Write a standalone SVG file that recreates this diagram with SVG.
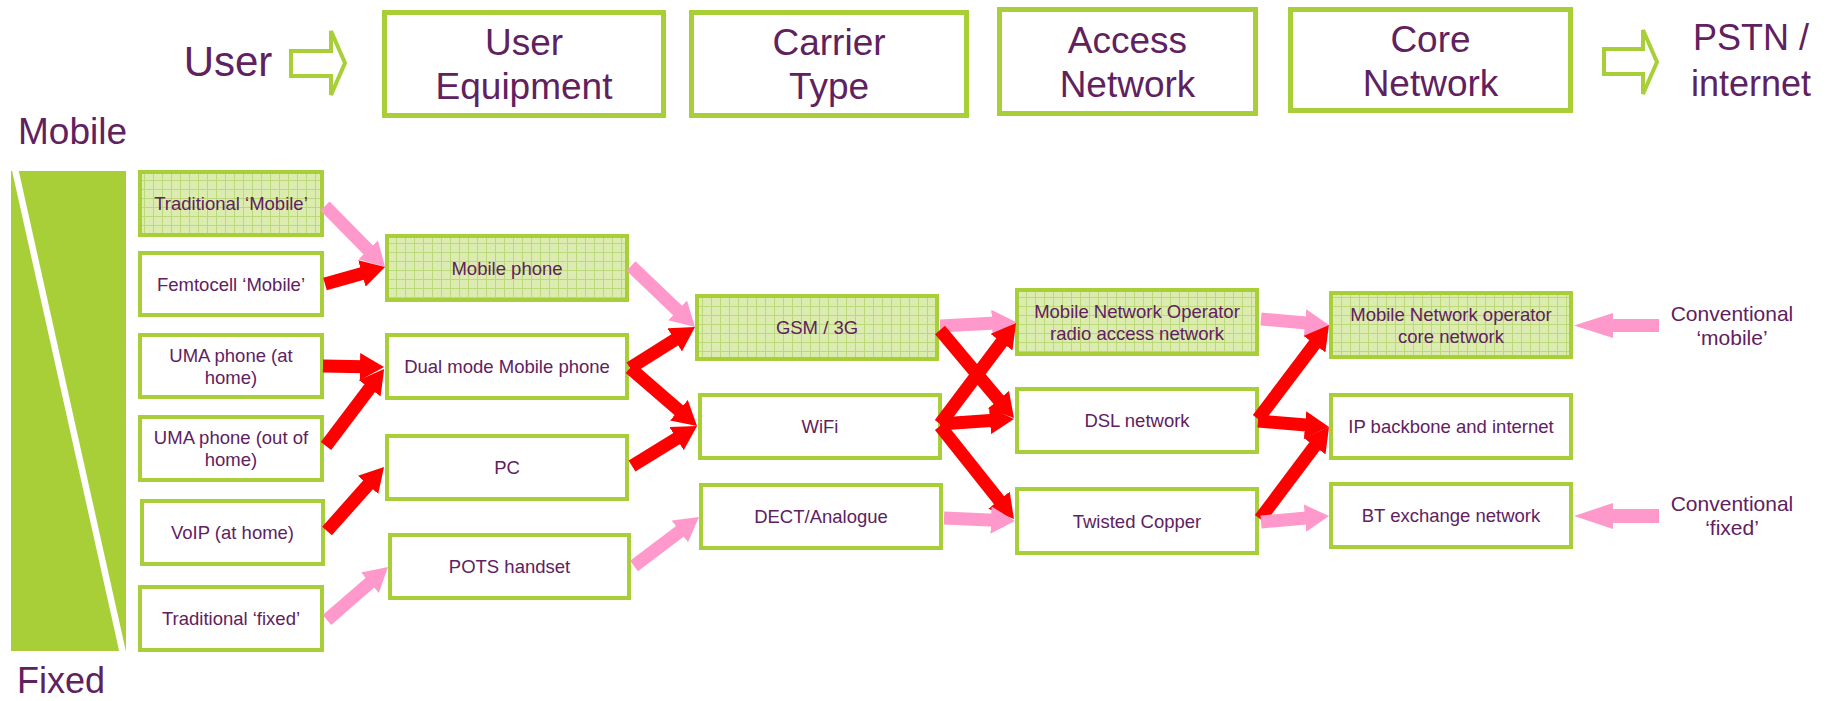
<svg xmlns="http://www.w3.org/2000/svg" width="1830" height="701" viewBox="0 0 1830 701">
<style>
text{font-family:"Liberation Sans",Arial,sans-serif;fill:#60215f;text-anchor:middle}
.hd{font-size:37px}
.nt{font-size:18.5px}
.lb{font-size:21px}
.box{fill:#fff;stroke:#a8cf38;stroke-width:4}
.hbox{fill:url(#grid);stroke:#a8cf38;stroke-width:4}
.head{fill:#fff;stroke:#a8cf38;stroke-width:5}
.red{stroke:#ff0000;stroke-width:13;fill:none;marker-end:url(#ahr)}
.pink{stroke:#ff99cc;stroke-width:13;fill:none;marker-end:url(#ahp)}
</style>
<defs>
<pattern id="grid" width="9" height="9" patternUnits="userSpaceOnUse"><rect width="9" height="9" fill="#dcebb0"/><path d="M0 0.5H9M0.5 0V9" stroke="#bcd97a" stroke-width="1"/></pattern>
<marker id="ahr" viewBox="0 -1.05 1.85 2.1" markerWidth="1.85" markerHeight="2.1" refX="0.31" refY="0" orient="auto" markerUnits="strokeWidth"><path d="M0,-1.05L1.85,0L0,1.05z" fill="#ff0000"/></marker>
<marker id="ahp" viewBox="0 -1.05 1.85 2.1" markerWidth="1.85" markerHeight="2.1" refX="0.31" refY="0" orient="auto" markerUnits="strokeWidth"><path d="M0,-1.05L1.85,0L0,1.05z" fill="#ff99cc"/></marker>
</defs>
<rect width="1830" height="701" fill="#fff"/>

<g id="header">
<text x="228" y="76" style="font-size:42px">User</text>
<polygon points="291,51 331,51 331,31 345,63 331,95 331,76 291,76" fill="#fff" stroke="#a8cf38" stroke-width="4"/>
<g id="h-ue"><rect class="head" x="384.5" y="12.5" width="279" height="103"/><text class="hd" x="524" y="55">User</text><text class="hd" x="524" y="99">Equipment</text></g>
<g id="h-ct"><rect class="head" x="691.5" y="12.5" width="275" height="103"/><text class="hd" x="829" y="55">Carrier</text><text class="hd" x="829" y="99">Type</text></g>
<g id="h-an"><rect class="head" x="999.5" y="9.5" width="256" height="104"/><text class="hd" x="1127.5" y="53">Access</text><text class="hd" x="1127.5" y="97">Network</text></g>
<g id="h-cn"><rect class="head" x="1290.5" y="9.5" width="280" height="101"/><text class="hd" x="1430.5" y="52">Core</text><text class="hd" x="1430.5" y="96">Network</text></g>
<polygon points="1604,49 1643,49 1643,30 1657,62 1643,94 1643,74 1604,74" fill="#fff" stroke="#a8cf38" stroke-width="4"/>
<text x="1751" y="50" style="font-size:36px">PSTN /</text>
<text x="1751" y="96" style="font-size:36px">internet</text>
</g>

<g id="side">
<text x="18" y="144" style="font-size:37px;text-anchor:start">Mobile</text>
<rect x="11" y="171" width="115" height="480" fill="#a8cf38"/>
<line x1="13" y1="160" x2="124.5" y2="660" stroke="#fff" stroke-width="6.5"/>
<rect x="0" y="651" width="140" height="12" fill="#fff"/>
<rect x="0" y="158" width="140" height="13" fill="#fff"/>
<text x="17" y="693" style="font-size:36px;text-anchor:start">Fixed</text>
</g>

<g id="n-trad-mobile"><rect class="hbox" x="140" y="172" width="182" height="63"/><text class="nt" x="231" y="210">Traditional ‘Mobile’</text></g>
<g id="n-femto"><rect class="box" x="140" y="253" width="182" height="62"/><text class="nt" x="231" y="291">Femtocell ‘Mobile’</text></g>
<g id="n-uma-home"><rect class="box" x="140" y="335" width="182" height="62"/><text class="nt" x="231" y="361.5">UMA phone (at</text><text class="nt" x="231" y="383.5">home)</text></g>
<g id="n-uma-out"><rect class="box" x="140" y="417" width="182" height="63"/><text class="nt" x="231" y="444">UMA phone (out of</text><text class="nt" x="231" y="466">home)</text></g>
<g id="n-voip"><rect class="box" x="142" y="501" width="181" height="63"/><text class="nt" x="232.5" y="539">VoIP (at home)</text></g>
<g id="n-trad-fixed"><rect class="box" x="140" y="587" width="182" height="63"/><text class="nt" x="231" y="625">Traditional ‘fixed’</text></g>

<g id="n-mobile-phone"><rect class="hbox" x="387" y="236" width="240" height="64"/><text class="nt" x="507" y="274.5">Mobile phone</text></g>
<g id="n-dual"><rect class="box" x="387" y="335" width="240" height="63"/><text class="nt" x="507" y="373">Dual mode Mobile phone</text></g>
<g id="n-pc"><rect class="box" x="387" y="436" width="240" height="63"/><text class="nt" x="507" y="474">PC</text></g>
<g id="n-pots"><rect class="box" x="390" y="535" width="239" height="63"/><text class="nt" x="509.5" y="573">POTS handset</text></g>

<g id="n-gsm"><rect class="hbox" x="697" y="296" width="240" height="63"/><text class="nt" x="817" y="334">GSM / 3G</text></g>
<g id="n-wifi"><rect class="box" x="700" y="395" width="240" height="63"/><text class="nt" x="820" y="433">WiFi</text></g>
<g id="n-dect"><rect class="box" x="701" y="485" width="240" height="63"/><text class="nt" x="821" y="523">DECT/Analogue</text></g>

<g id="n-mno-ran"><rect class="hbox" x="1017" y="290" width="240" height="64"/><text class="nt" x="1137" y="317.5">Mobile Network Operator</text><text class="nt" x="1137" y="339.5">radio access network</text></g>
<g id="n-dsl"><rect class="box" x="1017" y="389" width="240" height="63"/><text class="nt" x="1137" y="427">DSL network</text></g>
<g id="n-copper"><rect class="box" x="1017" y="489" width="240" height="64"/><text class="nt" x="1137" y="527.5">Twisted Copper</text></g>

<g id="n-mno-core"><rect class="hbox" x="1331" y="293" width="240" height="64"/><text class="nt" x="1451" y="320.5">Mobile Network operator</text><text class="nt" x="1451" y="342.5">core network</text></g>
<g id="n-ip"><rect class="box" x="1331" y="395" width="240" height="63"/><text class="nt" x="1451" y="433">IP backbone and internet</text></g>
<g id="n-bt"><rect class="box" x="1331" y="484" width="240" height="63"/><text class="nt" x="1451" y="522">BT exchange network</text></g>

<g id="l-conv-mobile"><text class="lb" x="1732" y="321">Conventional</text><text class="lb" x="1732" y="345">‘mobile’</text></g>
<g id="l-conv-fixed"><text class="lb" x="1732" y="511">Conventional</text><text class="lb" x="1732" y="535">‘fixed’</text></g>

<g id="connectors">
<line class="pink" x1="325" y1="206" x2="371" y2="252.7"/>
<line class="red" x1="325" y1="284" x2="365.8" y2="272.4"/>
<line class="red" x1="323" y1="366" x2="364" y2="366.7"/>
<line class="red" x1="326" y1="446" x2="372.1" y2="385"/>
<line class="red" x1="327" y1="531" x2="370.7" y2="481.9"/>
<line class="pink" x1="327" y1="620" x2="372.9" y2="580.1"/>

<line class="pink" x1="631" y1="266" x2="680.5" y2="313.2"/>
<line class="red" x1="630" y1="368" x2="678.1" y2="337.7"/>
<line class="red" x1="630" y1="368" x2="681.9" y2="412.9"/>
<line class="red" x1="632" y1="466" x2="680" y2="436.5"/>
<line class="pink" x1="634" y1="566" x2="683" y2="529"/>

<line class="pink" x1="940" y1="326" x2="996" y2="323.1"/>
<line class="red" x1="940" y1="330" x2="1001.1" y2="402.7"/>
<line class="red" x1="940" y1="424" x2="1004" y2="339"/>
<line class="red" x1="940" y1="424" x2="994" y2="420.3"/>
<line class="red" x1="940" y1="426" x2="1001.5" y2="503.3"/>
<line class="pink" x1="944" y1="518" x2="995" y2="520.2"/>

<line class="pink" x1="1261" y1="319" x2="1309.1" y2="323.2"/>
<line class="red" x1="1258" y1="419" x2="1316.9" y2="341"/>
<line class="red" x1="1258" y1="421" x2="1309.1" y2="425.3"/>
<line class="red" x1="1260" y1="519" x2="1317" y2="443"/>
<line class="pink" x1="1261" y1="522" x2="1309.1" y2="517.8"/>

<polygon points="1659,319 1613,319 1613,313 1574,325.5 1613,338 1613,332 1659,332" fill="#ff99cc"/>
<polygon points="1659,509 1613,509 1613,503 1574,516 1613,529 1613,523 1659,523" fill="#ff99cc"/>
</g>
</svg>
